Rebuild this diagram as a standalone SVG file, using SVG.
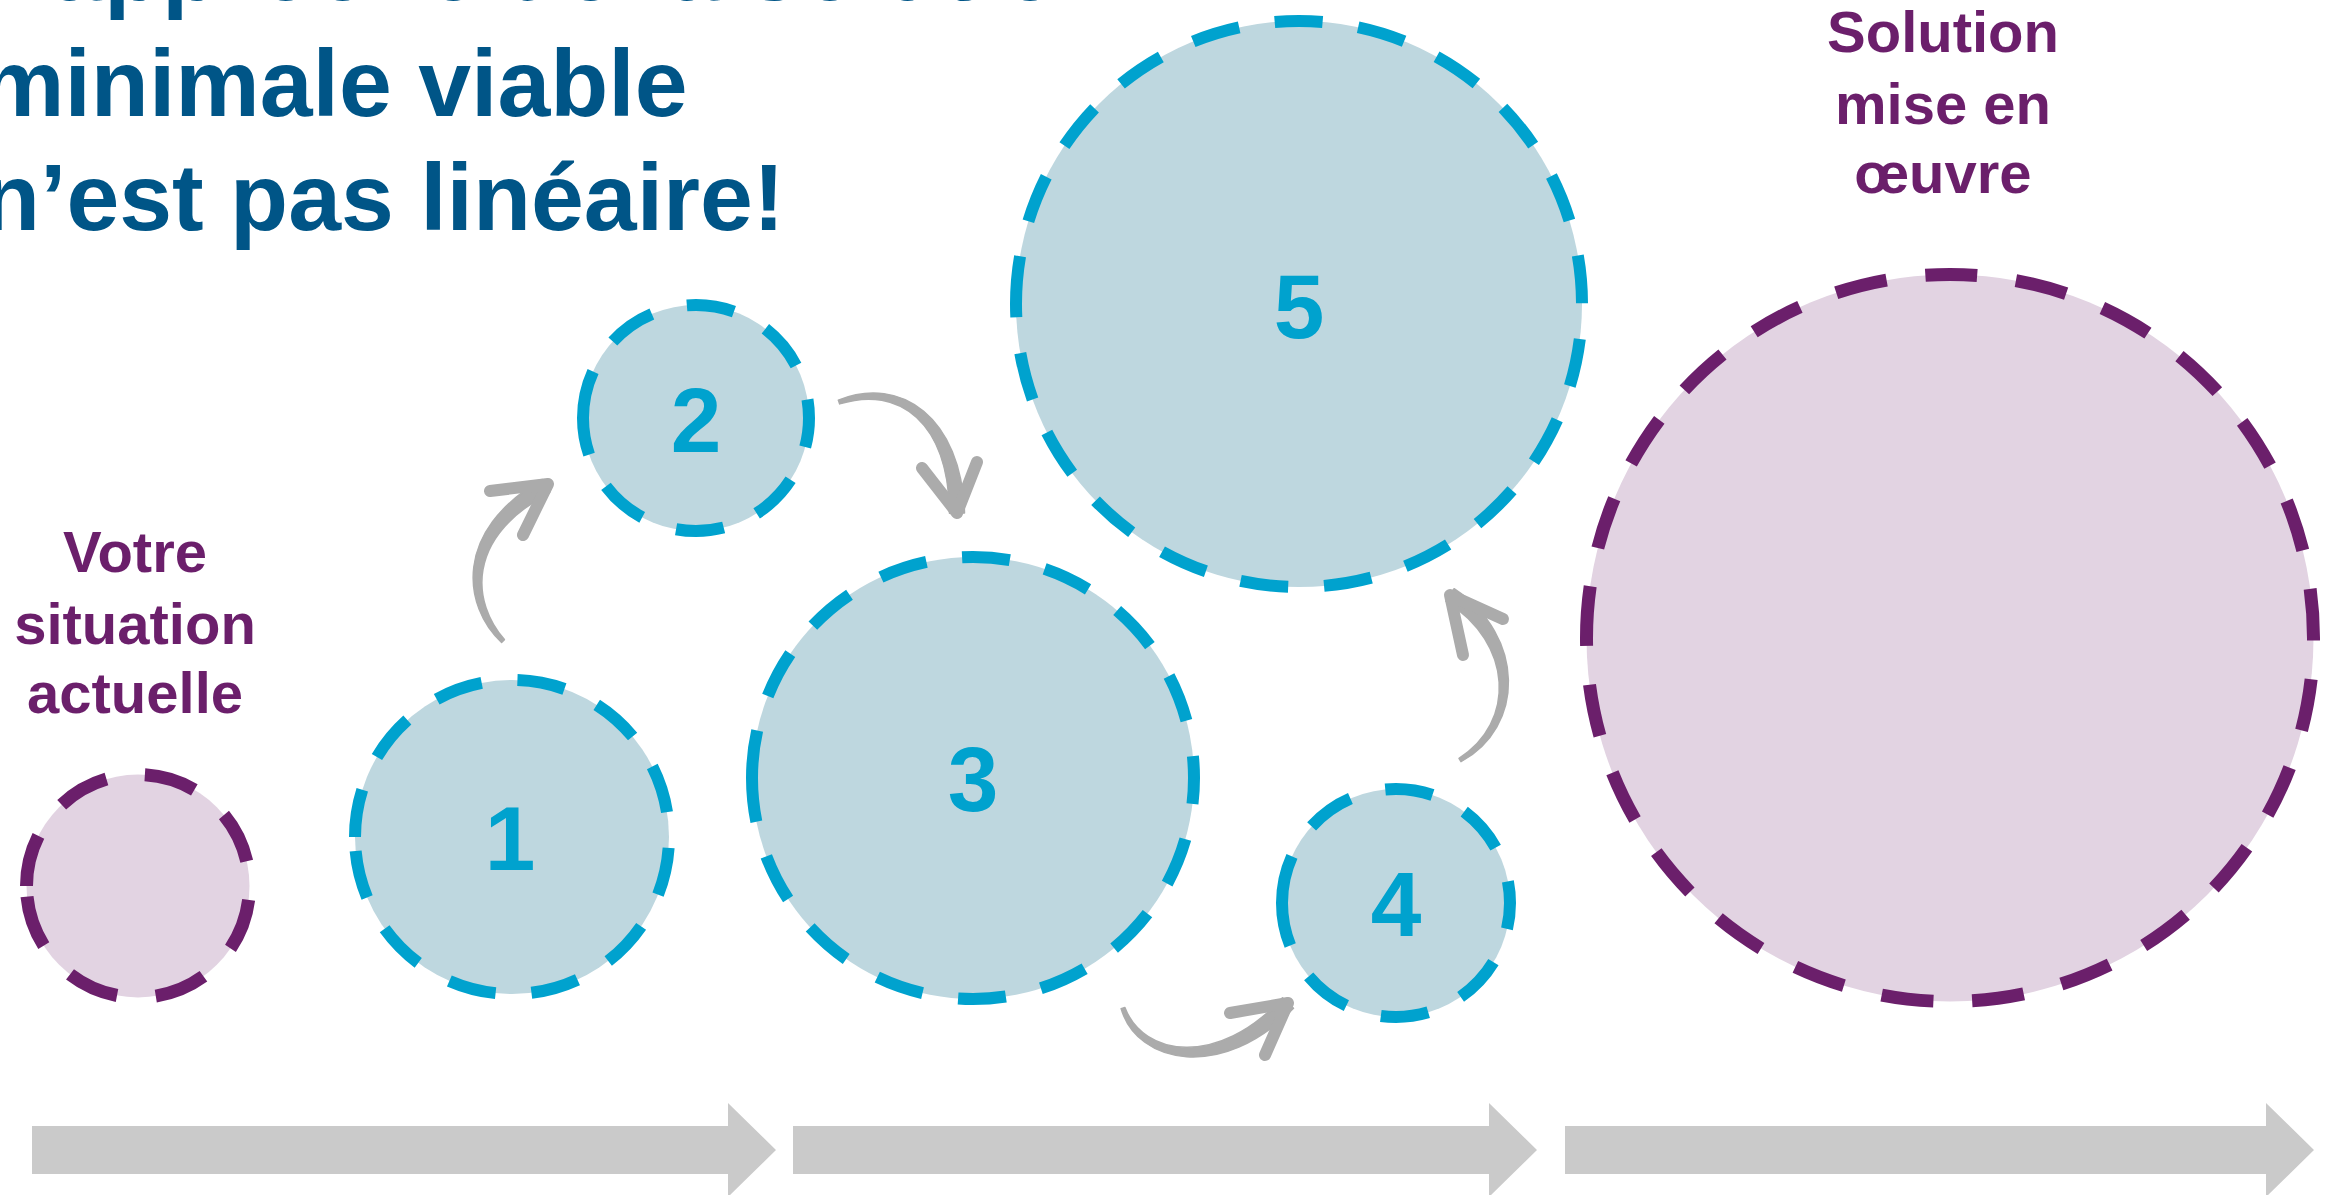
<svg xmlns="http://www.w3.org/2000/svg" width="2329" height="1195" viewBox="0 0 2329 1195">
<style>
  .title { font-family: "Liberation Sans", Arial, sans-serif; font-weight: bold; font-size: 95px; fill: #005587; }
  .label { font-family: "Liberation Sans", Arial, sans-serif; font-weight: bold; font-size: 58px; fill: #6B1F6B; text-anchor: middle; }
  .num { font-family: "Liberation Sans", Arial, sans-serif; font-weight: bold; font-size: 91px; fill: #00A2CE; text-anchor: middle; }
  .blue { fill: #BED7DF; stroke: #00A2CE; stroke-width: 12; stroke-dasharray: 48 36; stroke-linecap: butt; }
  .purple { fill: #E2D3E2; stroke: #6B1F6B; stroke-width: 13; stroke-dasharray: 52 39; stroke-linecap: butt; }
  .shaft { fill: #ABABAB; stroke: #ABABAB; stroke-width: 1.5; stroke-linejoin: round; }
  .head { fill: none; stroke: #ABABAB; stroke-width: 12; stroke-linecap: round; stroke-linejoin: round; }
  .timeline { fill: #CACACA; }
</style>
<rect width="2329" height="1195" fill="#FFFFFF"/>

<g id="title">
  <text class="title" x="-28" y="0">L’approche de la solution</text>
  <text class="title" x="-20" y="116">minimale viable</text>
  <text class="title" x="-18" y="230">n’est pas linéaire!</text>
</g>

<g id="timeline">
  <polygon class="timeline" points="32,1126 728,1126 728,1103 776,1150 728,1197 728,1174 32,1174"/>
  <polygon class="timeline" points="793,1126 1489,1126 1489,1103 1537,1150 1489,1197 1489,1174 793,1174"/>
  <polygon class="timeline" points="1565,1126 2266,1126 2266,1103 2314,1150 2266,1197 2266,1174 1565,1174"/>
</g>

<g id="node-current">
  <circle class="purple" cx="138" cy="886" r="111.5" transform="rotate(180 138 886)"/>
  <text class="label" x="135" y="572">Votre</text>
  <text class="label" x="135" y="644">situation</text>
  <text class="label" x="135" y="713">actuelle</text>
</g>

<g id="node-1">
  <circle class="blue" cx="512" cy="837" r="157" transform="rotate(180 512 837)"/>
  <text class="num" x="510" y="870">1</text>
</g>

<g id="node-2">
  <circle class="blue" cx="696" cy="418" r="113" transform="rotate(180 696 418)"/>
  <text class="num" x="696" y="452">2</text>
</g>

<g id="node-3">
  <circle class="blue" cx="973" cy="778" r="221" transform="rotate(180 973 778)"/>
  <text class="num" x="973" y="811">3</text>
</g>

<g id="node-4">
  <circle class="blue" cx="1396" cy="903" r="114" transform="rotate(180 1396 903)"/>
  <text class="num" x="1396" y="936">4</text>
</g>

<g id="node-5">
  <circle class="blue" cx="1299" cy="304" r="283" transform="rotate(180 1299 304)"/>
  <text class="num" x="1299" y="338">5</text>
</g>

<g id="node-solution">
  <circle class="purple" cx="1950" cy="638" r="363.5" transform="rotate(180 1950 638)"/>
  <text class="label" x="1943" y="52">Solution</text>
  <text class="label" x="1943" y="124">mise en</text>
  <text class="label" x="1943" y="193">œuvre</text>
</g>

<g id="connectors">
  <path class="shaft" d="M504.4,639.6 C472.6,603 463.9,538.9 549.7,492.5 L542.3,479.5 C452.1,531.2 463.4,607 501.6,642.4 Z"/>
  <path class="head" d="M490,491 L548,484 L523,535"/>

  <path class="shaft" d="M839.7,403.9 C899.3,385 948.6,422.7 949.5,513.2 L964.5,512.9 C961.4,417.3 900.8,375 838.3,400.1 Z"/>
  <path class="head" d="M922,468 L957,513 L977,462"/>

  <path class="shaft" d="M1121.1,1008.6 C1137.2,1064.1 1222.5,1081.5 1293.5,1008.2 L1282.5,997.8 C1217.5,1068.5 1142.9,1055.9 1124.9,1007.4 Z"/>
  <path class="head" d="M1230,1013 L1288,1003 L1265,1055"/>

  <path class="shaft" d="M1461,761.7 C1524.5,727.3 1526.2,636.7 1454.1,588.7 L1446,601.3 C1513.8,643.3 1515.6,722.8 1459,758.3 Z"/>
  <path class="head" d="M1503,619 L1450,595 L1463,655"/>
</g>
</svg>
